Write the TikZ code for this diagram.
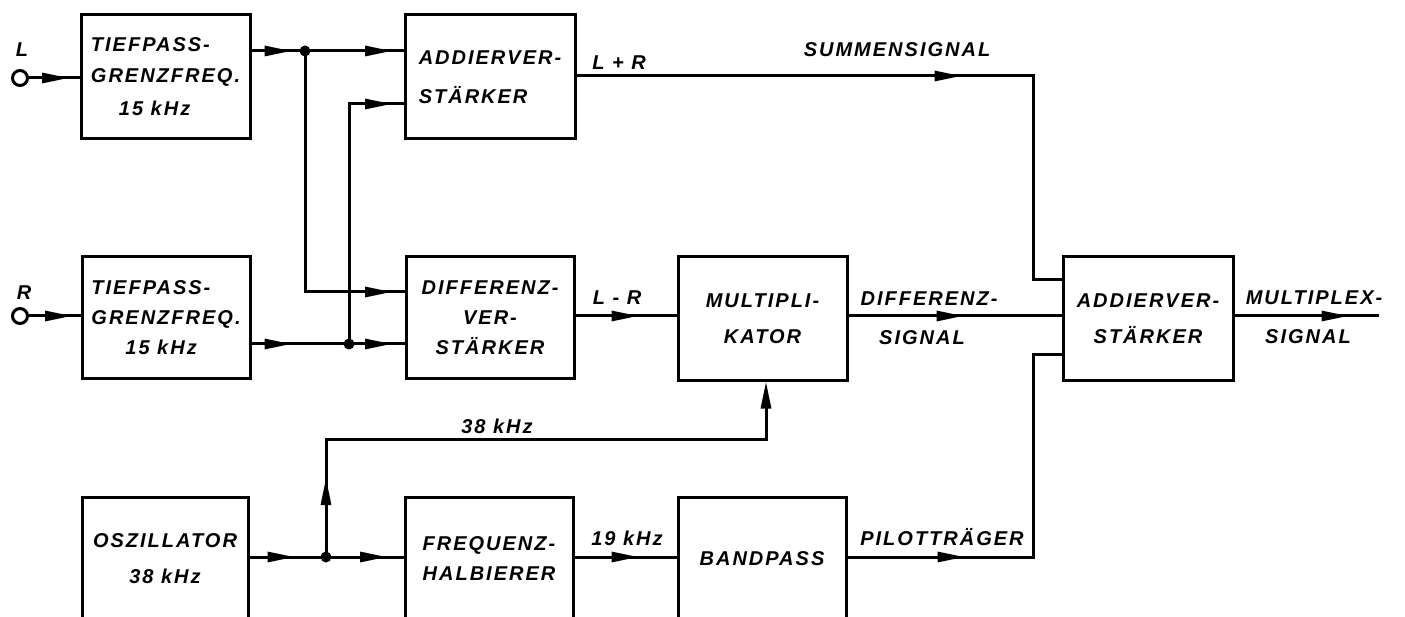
\documentclass[tikz,border=0pt]{standalone}
\usepackage{fontspec}
\newfontfamily\dinf{Liberation Sans}[LetterSpace=10]
\usetikzlibrary{arrows.meta,decorations.markings}
\begin{document}
\begin{tikzpicture}[x=1pt,y=-1pt, line width=3pt,
  lbl/.style={font=\dinf\bfseries\itshape\fontsize{20}{30}\selectfont, inner sep=0pt},
  box/.style={draw, rectangle, lbl, align=center},
  dot/.style={circle, fill, inner sep=0pt, minimum size=11pt},
  port/.style={circle, draw, inner sep=0pt, minimum size=15pt},
  tri/.style={postaction={decorate,decoration={markings,mark=at position #1 with {\arrow{Triangle[length=27pt,width=10pt]}}}}},
  endtri/.style={-{Triangle[length=27pt,width=10pt]}}
  ]
\fill[white] (0,0) rectangle (1405,617);
\useasboundingbox (0,0) rectangle (1405,617);
\clip (0,0) rectangle (1405,617);

% boxes
\node[box, minimum width=169pt, minimum height=124pt, align=left] (tp1) at (165.5,77) {TIEFPASS-\\[1pt]GRENZFREQ.\\[3pt]\hspace*{28pt}15 kHz};
\node[box, minimum width=168pt, minimum height=121pt, align=left] (tp2) at (166,317.5) {TIEFPASS-\\GRENZFREQ.\\\hspace*{34pt}15 kHz};
\node[box, minimum width=170pt, minimum height=124pt, align=left] (add1) at (490,77) {ADDIERVER-\\[9pt]STÄRKER};
\node[box, minimum width=168pt, minimum height=121pt] (diff) at (490,317.5) {DIFFERENZ-\\VER-\\STÄRKER};
\node[box, minimum width=169pt, minimum height=123pt] (mult) at (762.5,318.5) {MULTIPLI-\\[6pt]KATOR};
\node[box, minimum width=170pt, minimum height=123pt] (add2) at (1148,318.5) {ADDIERVER-\\[6pt]STÄRKER};
\node[box, minimum width=166pt, minimum height=124pt] (osz) at (165,559) {OSZILLATOR\\[6pt]38 kHz};
\node[box, minimum width=168pt, minimum height=124pt] (freq) at (489,559) {FREQUENZ-\\HALBIERER};
\node[box, minimum width=168pt, minimum height=124pt] (band) at (762,559) {BANDPASS};

% inputs
\node[port] (Lc) at (20,78) {};
\node[port] (Rc) at (20,316) {};
\node[lbl] (Lt) at (22,50) {L};
\node[lbl] (Rt) at (24,293) {R};

% junctions and bends
\node[dot] (d1) at (305,51) {};
\node[dot] (d2) at (349,344) {};
\node[dot] (d3) at (326,557) {};
\coordinate (b1) at (305,292);
\coordinate (b2) at (349,104);
\coordinate (c1) at (1033,76);
\coordinate (c1b) at (1033,280);
\coordinate (c2) at (1033,557);
\coordinate (c2b) at (1033,355);
\coordinate (b3) at (326,439);
\coordinate (b4) at (766,439);
\coordinate (out) at (1379,316);

% connectors
\draw[tri=40pt] (Lc.east) -- (Lc.east -| tp1.west);
\draw[tri=43pt] (Rc.east) -- (Rc.east -| tp2.west);
\draw[tri=40pt] (tp1.east |- d1) -- (d1.center);
\draw[tri=87pt] (d1.center) -- (d1 -| add1.west);
\draw[tri=328pt] (d1.center) -- (b1) -- (b1 -| diff.west);
\draw[tri=40pt] (tp2.east |- d2) -- (d2.center);
\draw[tri=43pt] (d2.center) -- (d2 -| diff.west);
\draw[tri=283pt] (d2.center) -- (b2) -- (b2 -| add1.west);
\draw[tri=385pt] (add1.east |- c1) -- (c1) -- (c1b) -- (c1b -| add2.west);
\draw[tri=63pt] (diff.east |- out) -- (out -| mult.west);
\draw[tri=115pt] (mult.east |- out) -- (out -| add2.west);
\draw[tri=114pt] (add2.east |- out) -- (out);
\draw[tri=45pt] (osz.east |- d3) -- (d3.center);
\draw[tri=61pt] (d3.center) -- (d3 -| freq.west);
\draw[tri=79pt, endtri] (d3.center) -- (b3) -- (b4) -- (b4 |- mult.south);
\draw[tri=64pt] (freq.east |- d3) -- (d3 -| band.west);
\draw[tri=117pt] (band.east |- c2) -- (c2) -- (c2b) -- (c2b -| add2.west);

% labels
\node[lbl] (lLR) at (619,63) {L + R};
\node[lbl] (lsum) at (897,50) {SUMMENSIGNAL};
\node[lbl] (lLmR) at (617,298) {L - R};
\node[lbl] (ldiff) at (929,299) {DIFFERENZ-};
\node[lbl] (ldsig) at (922,338) {SIGNAL};
\node[lbl] (lmux) at (1314,298) {MULTIPLEX-};
\node[lbl] (lmsig) at (1308,337) {SIGNAL};
\node[lbl] (l38) at (497,426) {38 kHz};
\node[lbl] (l19) at (627,538) {19 kHz};
\node[lbl] (lpil) at (942,537) {PILOTTRÄGER};
\end{tikzpicture}
\end{document}
